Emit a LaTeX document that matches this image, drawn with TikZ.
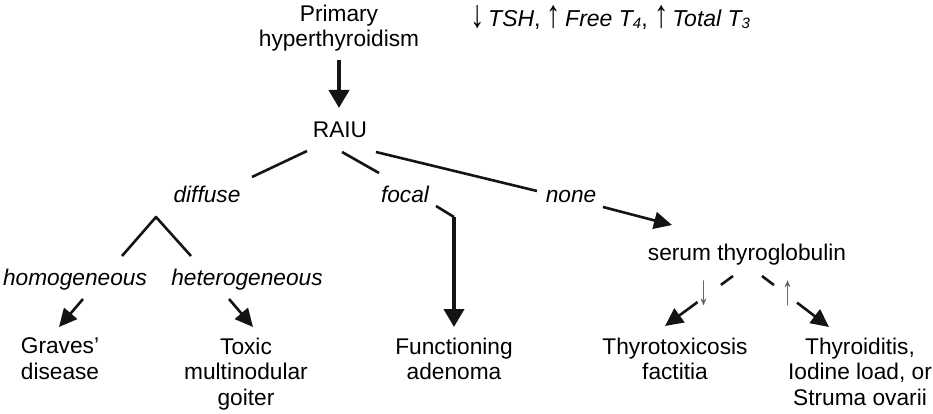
\documentclass[tikz,border=0pt]{standalone}
\usepackage{fontspec}
\usepackage{graphicx}
\setmainfont{Liberation Sans}
\usetikzlibrary{arrows.meta}
\newcommand{\lowsub}[1]{\raisebox{-1.5pt}{\fontsize{15}{15}\selectfont #1}}
\newcommand{\tallarr}[1]{\raisebox{-1pt}{\scalebox{1.25}[1.7]{#1}}}
\begin{document}
\begin{tikzpicture}[x=1pt,y=-1pt,
  font=\fontsize{22.7}{25.5}\selectfont,
  txt/.style={inner sep=0pt, outer sep=0pt, align=center},
  lab/.style={txt, anchor=base, font=\fontsize{22.7}{25.5}\selectfont\itshape},
  conn/.style={line width=2.6pt, draw=black!92},
  arr/.style={conn, -{Triangle[length=18pt,width=17pt]}},
  varr/.style={line width=4pt, draw=black!92, -{Triangle[length=18pt,width=20pt]}},
  darr/.style={arr, dash pattern=on 15pt off 29pt on 80pt},
  tiny/.style={txt, anchor=center, text=black!65, font=\fontsize{20}{20}\selectfont}
]
\useasboundingbox (0,0) rectangle (933,414);

% texts
\node[txt, anchor=north] (prim) at (339,5) {Primary\\hyperthyroidism};
\node[txt, anchor=base west, font=\fontsize{23}{23}\selectfont] (lab) at (470,27)
  {\tallarr{↓}\,\textit{TSH}, \tallarr{↑}\,\textit{Free T\lowsub{4}}, \tallarr{↑}\,\textit{Total T\lowsub{3}}};
\node[txt, anchor=base] (raiu) at (340,138) {RAIU};
\node[lab] (diff) at (207,202) {diffuse};
\node[lab] (foc) at (405,202) {focal};
\node[lab] (none) at (571,202) {none};
\node[lab] (hom) at (75,285) {homogeneous};
\node[lab] (het) at (247,285) {heterogeneous};
\node[txt, anchor=base] (serum) at (747,260) {serum thyroglobulin};
\node[tiny] (dn) at (704,293) {\scalebox{1.1}[2.1]{↓}};
\node[tiny] (up) at (788,293) {\scalebox{1.1}[2.1]{↑}};

\node[txt, anchor=north] (graves) at (60,338) {Graves'\\disease};
\node[txt, anchor=north] (toxic) at (246,338) {Toxic\\multinodular\\goiter};
\node[txt, anchor=north] (func) at (454,338) {Functioning\\adenoma};
\node[txt, anchor=north] (thyro) at (675,338) {Thyrotoxicosis\\factitia};
\node[txt, anchor=north] (thyroid) at (860,338) {Thyroiditis,\\Iodine load, or\\Struma ovarii};

% connector end points
\coordinate (primB) at (339,60);
\coordinate (raiuT) at (339,108);
\coordinate (raiuL) at (307,151);
\coordinate (diffT) at (252,177);
\coordinate (raiuM) at (342,152);
\coordinate (focT) at (379,173);
\coordinate (raiuR) at (376,152);
\coordinate (noneL) at (537,191);
\coordinate (noneR) at (603,207);
\coordinate (serumT) at (672,225);
\coordinate (focR) at (436,206);
\coordinate (focK) at (454,217);
\coordinate (funcT) at (454,327);
\coordinate (apex) at (156,217);
\coordinate (homT) at (122,256);
\coordinate (hetT) at (191,256);
\coordinate (homB) at (83,299);
\coordinate (gravT) at (59,327);
\coordinate (hetB) at (229,299);
\coordinate (toxT) at (253,327);
\coordinate (serL) at (733,276);
\coordinate (thyT) at (665,326);
\coordinate (serR) at (762,276);
\coordinate (thdT) at (829,327);

% connectors
\draw[varr] (primB) -- (raiuT);
\draw[conn] (raiuL) -- (diffT);
\draw[conn] (raiuM) -- (focT);
\draw[conn] (raiuR) -- (noneL);
\draw[arr] (noneR) -- (serumT);
\draw[conn] (focR) -- (focK);
\draw[varr] (focK) -- (funcT);
\draw[conn, line join=round] (homT) -- (apex) -- (hetT);
\draw[arr] (homB) -- (gravT);
\draw[arr] (hetB) -- (toxT);
\draw[darr] (serL) -- (thyT);
\draw[darr] (serR) -- (thdT);
\end{tikzpicture}
\end{document}
